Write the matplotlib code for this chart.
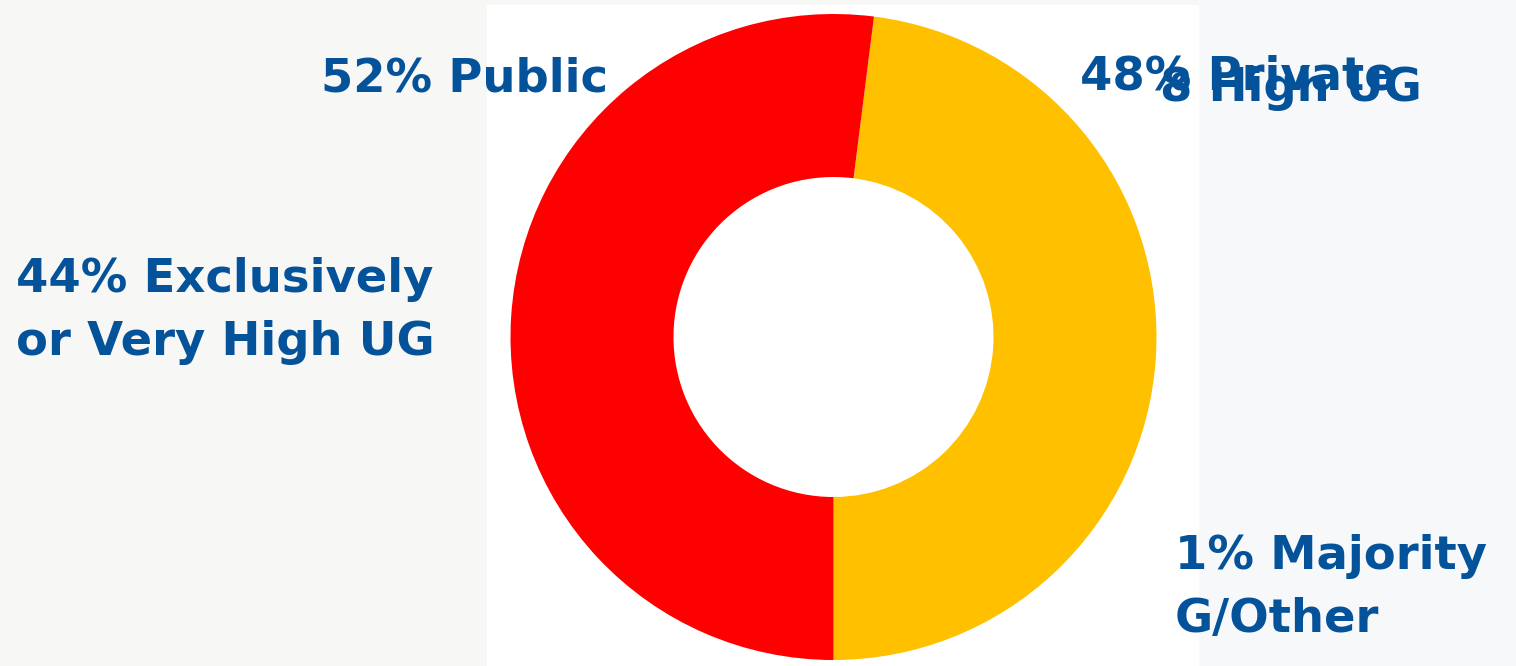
import matplotlib.pyplot as plt
from matplotlib.patches import Rectangle

# share of institutions
sectors = ["Private", "Public"]
sector_pct = [48, 52]
sector_colors = ["#ffc000", "#ff0000"]

# label texts (as shown on the slide)
public_label = "52% Public"
private_label = "48% Private"
hidden_label = "8 High UG"
ug_label = "44% Exclusively\nor Very High UG"
grad_label = "1% Majority\nG/Other"

TEXT_COLOR = "#04529a"
W, H = 1516, 666

fig = plt.figure(figsize=(W / 100, H / 100), dpi=100)
fig.patch.set_facecolor("#f7f7f5")
ax = fig.add_axes([0, 0, 1, 1])

# white slide panel behind the donut, lighter grey on the right
ax.add_patch(Rectangle((1198, 0), W - 1198, H, color="#f7f8f9", zorder=0))
ax.add_patch(Rectangle((487, 0), 1198 - 487, H - 5, color="white", zorder=0))

start = 90 - (sector_pct[1] - 50) / 100 * 360
wedges, _ = ax.pie(
    sector_pct,
    colors=sector_colors,
    startangle=start,
    counterclock=False,
    center=(833.5, H - 337),
    radius=323,
    wedgeprops=dict(width=163, linewidth=0),
)
for w in wedges:
    w.set_zorder(1)

ax.set_xlim(0, W)
ax.set_ylim(0, H)
ax.set_aspect("equal")
ax.axis("off")

font = dict(color=TEXT_COLOR, fontsize=33.5, fontweight="bold",
            family="DejaVu Sans", zorder=3, linespacing=1.52)

ax.text(321, H - 92, public_label, ha="left", va="baseline", **font)
ax.text(1080, H - 90, private_label, ha="left", va="baseline", **font)
ax.text(1160, H - 101, hidden_label, ha="left", va="baseline", **font)
# multi-line: y is the baseline of the last line
ax.text(16, H - 355, ug_label, ha="left", va="baseline", **font)
ax.text(1175, H - 632, grad_label, ha="left", va="baseline", **font)

fig.savefig("out.png", dpi=100, facecolor=fig.get_facecolor())
